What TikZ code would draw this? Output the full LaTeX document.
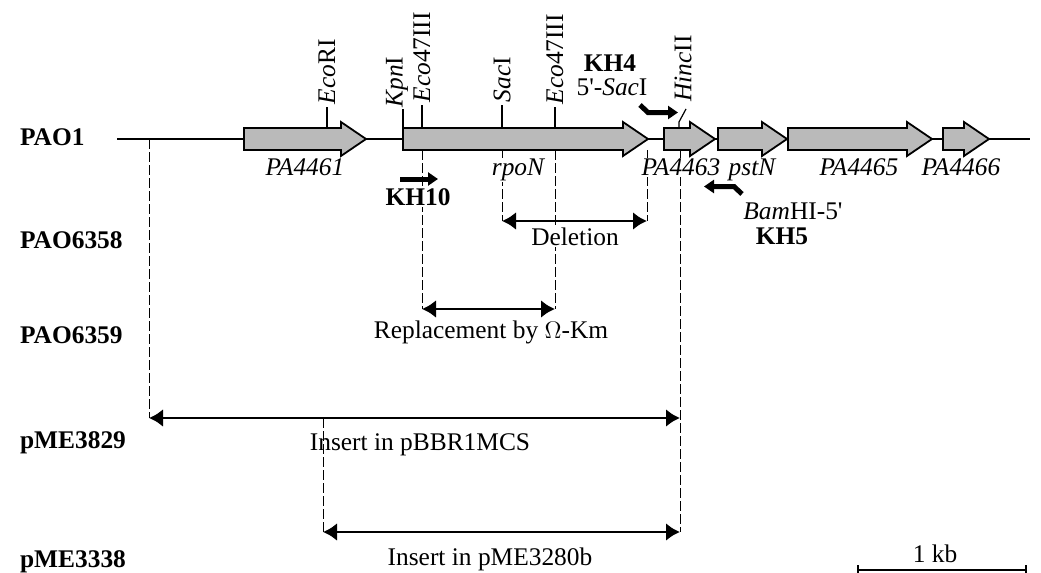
\documentclass[tikz,border=0pt]{standalone}
\usepackage{fontspec}
\setmainfont{Liberation Serif}
\usepackage{tikz}
\usetikzlibrary{arrows.meta,positioning,calc}
\newcommand{\labsize}{\fontsize{12.7}{15.2}\selectfont}

\begin{document}
\begin{tikzpicture}[x=0.5pt,y=-0.5pt,font=\labsize,
  gene/.style={draw,line width=0.9pt,fill=black!27},
  glab/.style={anchor=base,font=\labsize\itshape,fill=white,inner sep=0.5pt},
  site/.style={line width=0.6pt},
  sitelab/.style={rotate=90,anchor=west,inner sep=1pt},
  guide/.style={line width=0.5pt,dash pattern=on 5pt off 1.5pt},
  span/.style={line width=1.4pt,{Latex[length=7pt,width=9pt]}-{Latex[length=7pt,width=9pt]}},
  primer/.style={line width=2.5pt,-{Triangle[length=5pt,width=6.5pt]}},
  strain/.style={anchor=base west,font=\labsize\bfseries}]
\useasboundingbox (0,0) rectangle (1041,573);

% strains
\foreach \y/\lab in {145/PAO1,248/PAO6358,343/PAO6359,448/pME3829,567/pME3338}
  \node[strain] (s\lab) at (13,\y) {\lab};

% dashed guides
\foreach \n/\x/\ya/\yb in {ins/149/139/418, ecoa/422/150/309, sac/502/150/221,
  ecob/555/150/309, del/647/150/221, hinc/680/150/532, sub/323/418/532}{
  \coordinate (\n1) at (\x,\ya); \coordinate (\n2) at (\x,\yb);
  \draw[guide] (\n1) -- (\n2);
}

% chromosome and genes
\coordinate (chrL) at (117,139); \coordinate (chrR) at (1030,139);
\draw[line width=1.1pt] (chrL) -- (chrR);
\foreach \a/\b/\lab/\lx in {244/366/PA4461/305, 403/648/rpoN/518, 664/715/PA4463/681,
  718/787/pstN/752, 788/932/PA4465/859, 943/989/PA4466/961}{
  \draw[gene] (\a,128) -- (\b-25,128) -- (\b-25,122) -- (\b,139) -- (\b-25,156)
    -- (\b-25,150) -- (\a,150) -- cycle;
  \node[glab] (g\lab) at (\lx,176) {\lab};
}

% restriction sites
\foreach \n/\x/\h/\lab in {ecori/327/107/\textit{Eco}RI, ecoa/422/105/\textit{Eco}47III,
  sac/502/105/\textit{Sac}I, ecob/555/107/\textit{Eco}47III}
  \draw[site] (\x,128) coordinate (\n0) -- (\x,\h) node[sitelab] (l\n) {\lab};
\draw[site] (403,128) coordinate (kpn0) -- (403,109);
\node[sitelab] (lkpn) at (397,110) {\textit{Kpn}I};
\draw[site] (679,128) coordinate (hinc0) -- (679,122) -- (686,109);
\node[sitelab] (lhinc) at (683,104) {\textit{Hinc}II};

% primers
\node[font=\labsize\bfseries,anchor=base] (kh4) at (610,71) {KH4};
\node[anchor=base] (kh4s) at (612,96) {5\textquotesingle-\textit{Sac}I};
\coordinate (p4a) at (640,105); \coordinate (p4b) at (648,112.5); \coordinate (p4c) at (678,112.5);
\draw[primer] (p4a) -- (p4b) -- (p4c);
\node[font=\labsize\bfseries,anchor=base,fill=white,inner sep=1pt] (kh10) at (418,205) {KH10};
\coordinate (p10a) at (400,179); \coordinate (p10b) at (438,179);
\draw[primer] (p10a) -- (p10b);
\node[anchor=base] (kh5s) at (793,219) {\textit{Bam}HI-5\textquotesingle};
\node[font=\labsize\bfseries,anchor=base] (kh5) at (782,244) {KH5};
\coordinate (p5a) at (742,194); \coordinate (p5b) at (734,186.5); \coordinate (p5c) at (704,186.5);
\draw[primer] (p5a) -- (p5b) -- (p5c);

% deletions and inserts
\draw[span] (sac2) -- (del2);
\node[anchor=base,fill=white,inner sep=1pt] (ldel) at (575,245) {Deletion};
\draw[span] (ecoa2) -- (ecob2);
\node[anchor=base] (lrep) at (491,338) {Replacement by $\Omega$-Km};
\draw[span] (ins2) -- (hinc2 |- ins2);
\node[anchor=base] (lbbr) at (420,450) {Insert in pBBR1MCS};
\draw[span] (sub2) -- (hinc2);
\node[anchor=base] (lpme) at (490,565) {Insert in pME3280b};

% scale
\coordinate (kb0) at (857,570); \coordinate (kb1) at (1027,570);
\draw[line width=1.2pt,{Bar[width=5pt]}-{Bar[width=5pt]}] (kb0) -- (kb1);
\node[anchor=base] (kb) at (935,562) {1 kb};
\end{tikzpicture}
\end{document}
